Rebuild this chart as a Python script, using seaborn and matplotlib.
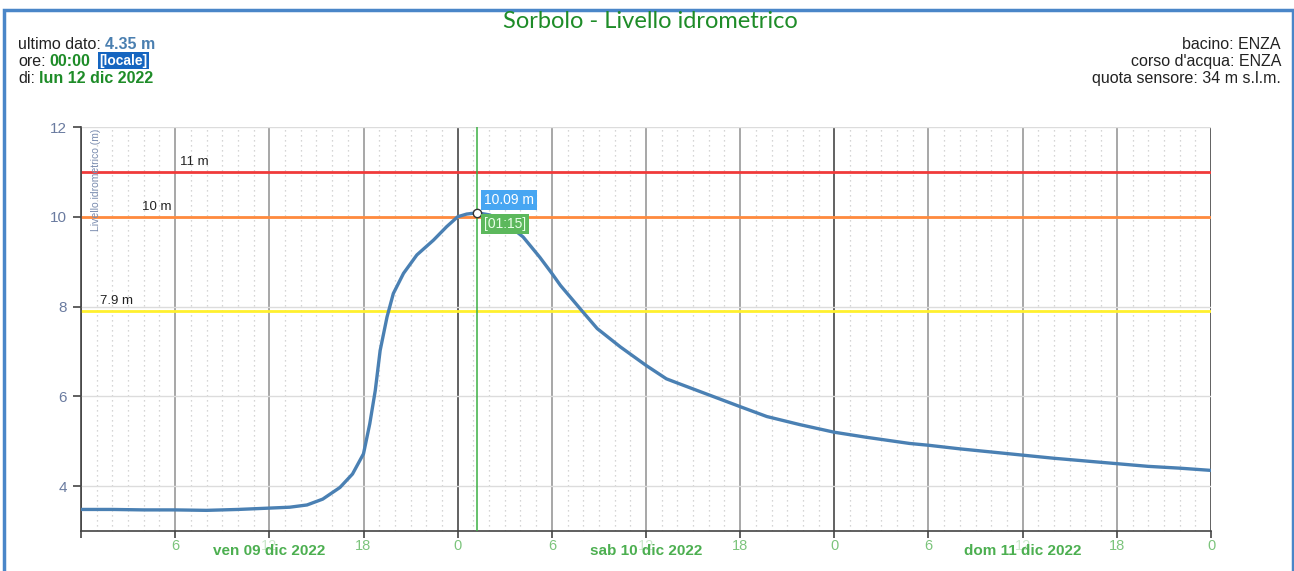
import numpy as np
import pandas as pd
import seaborn as sns
import matplotlib.pyplot as plt
from matplotlib.patches import Rectangle

# hours since ven 09 dic 2022 00:00 and water level (m)
hours = [0, 2, 4, 6, 8, 10, 12, 13.3, 14.4, 15.4, 16.5, 17.3, 18.0, 18.4,
         18.75, 19.06, 19.5, 19.9, 20.55, 21.4, 22.46, 23.3, 24.0, 24.57,
         25.25, 26.05, 27.1, 28.17, 29.23, 30.0, 30.55, 31.93, 32.89, 34.37,
         36, 37.3, 38.2, 40.1, 42, 43.7, 45.8, 48, 50, 52.8, 54, 56, 58, 60,
         62, 64, 66, 68, 70, 72]
levels = [3.48, 3.48, 3.47, 3.47, 3.46, 3.48, 3.51, 3.53, 3.58, 3.71, 3.97,
          4.27, 4.72, 5.39, 6.13, 7.02, 7.77, 8.29, 8.74, 9.15, 9.48, 9.78,
          10.0, 10.06, 10.09, 10.04, 9.85, 9.55, 9.1, 8.74, 8.47, 7.9, 7.51,
          7.1, 6.69, 6.39, 6.27, 6.02, 5.77, 5.55, 5.37, 5.2, 5.09, 4.95, 4.91,
          4.83, 4.76, 4.69, 4.62, 4.56, 4.5, 4.44, 4.4, 4.35]

thresholds = [11, 10, 7.9]
threshold_labels = ['11 m', '10 m', '7.9 m']
threshold_colors = ['#f03a3a', '#ff8a3d', '#fff02e']

days = ['ven 09 dic 2022', 'sab 10 dic 2022', 'dom 11 dic 2022']
hour_ticks = list(range(0, 73, 6))
hour_labels = ['', '6', '12', '18', '0', '6', '12', '18', '0', '6', '12', '18', '0']

df = pd.DataFrame({'ore': hours, 'livello': levels})

sns.set_theme(style='white')
plt.rcParams['font.family'] = ['Liberation Sans', 'DejaVu Sans']

W, H = 1294, 571
fig = plt.figure(figsize=(W / 100, H / 100), dpi=100)
ax = fig.add_axes([81 / W, 1 - 531 / H, 1130 / W, 404 / H])

# grid
ax.set_xlim(0, 72)
ax.set_ylim(3, 12)
for h in range(0, 73):
    if h % 6:
        ax.axvline(h, color='#c8c8c8', lw=0.9, ls=(0, (1, 3)), zorder=1)
for h in hour_ticks:
    col = '#555555' if h % 24 == 0 else '#a0a0a0'
    ax.axvline(h, color=col, lw=1.3, zorder=1)
for v in [4, 6, 8, 10, 12]:
    ax.axhline(v, color='#dcdcdc', lw=1, zorder=1)

# thresholds
label_x = [6.3, 3.9, 1.2]
for v, lab, c, lx in zip(thresholds, threshold_labels, threshold_colors, label_x):
    ax.axhline(v, color=c, lw=2, zorder=2)
    ax.text(lx, v + 0.08, lab, fontsize=9.5, color='#222222', va='bottom', ha='left', zorder=3)

# series
sns.lineplot(data=df, x='ore', y='livello', ax=ax, color='#4a80b3', lw=2.4, zorder=4)

# cursor at maximum
i_max = int(np.argmax(levels))
peak_h, peak_v = hours[i_max], levels[i_max]
ax.axvline(peak_h, color='#3cb043', lw=1.1, zorder=3)
ax.plot([peak_h], [peak_v], marker='o', ms=6, mfc='white', mec='#333333', mew=1, zorder=5)
hh = int(peak_h % 24)
mm = int(round((peak_h % 1) * 60))
ax.annotate(f'{peak_v:.2f} m', xy=(peak_h, peak_v), xytext=(5, 4), textcoords='offset points',
            fontsize=10, color='white', va='bottom', ha='left', zorder=6,
            bbox=dict(boxstyle='square,pad=0.2', fc='#47a6f2', ec='none'))
ax.annotate(f'[{hh:02d}:{mm:02d}]', xy=(peak_h, peak_v), xytext=(5, -3), textcoords='offset points',
            fontsize=10, color='#e8ffe8', va='top', ha='left', zorder=6,
            bbox=dict(boxstyle='square,pad=0.2', fc='#5cb85c', ec='none'))

# axes styling
ax.set_xlabel('')
ax.set_ylabel('')
ax.set_xticks(hour_ticks)
ax.set_xticklabels(hour_labels)
ax.set_yticks([4, 6, 8, 10, 12])
ax.tick_params(axis='x', colors='#444444', labelcolor='#7cc47c', labelsize=10.5, length=5, width=1.2,
               direction='out', bottom=True, pad=1)
ax.tick_params(axis='y', colors='#444444', labelcolor='#6a7ba0', labelsize=11, length=6, width=1.2,
               direction='out', left=True, pad=4)
for lab in ax.get_xticklabels():
    if lab.get_text() == '12':
        lab.set_alpha(0.4)
for s in ['top', 'right']:
    ax.spines[s].set_visible(False)
for s in ['left', 'bottom']:
    ax.spines[s].set_color('#444444')
    ax.spines[s].set_linewidth(1.2)

for i, d in enumerate(days):
    ax.text(12 + 24 * i, -0.033, d, transform=ax.get_xaxis_transform(), ha='center', va='top',
            fontsize=11, fontweight='bold', color='#4caf50', zorder=7)

ax.text(0.013, 0.995, 'Livello idrometrico (m)', transform=ax.transAxes, rotation=90,
        ha='center', va='top', fontsize=7.5, color='#7b8db0')

# header
fig.text(650 / W, 1 - 22 / H, 'Sorbolo - Livello idrometrico', ha='center', va='center',
         fontsize=17, color='#1e8c28', family=['Lato', 'DejaVu Sans'])

def header_line(y, label, value, vcolor, extra=None):
    t = fig.text(18 / W, 1 - y / H, label, ha='left', va='baseline', fontsize=11.5, color='#222222')
    v = plt.annotate(value, xy=(1, 0), xycoords=t, xytext=(3, 0), textcoords='offset points',
                     ha='left', va='bottom', fontsize=11.5, fontweight='bold', color=vcolor)
    if extra:
        plt.annotate(extra, xy=(1, 0), xycoords=v, xytext=(6, 1), textcoords='offset points',
                     ha='left', va='bottom', fontsize=10, fontweight='bold', color='white',
                     bbox=dict(boxstyle='square,pad=0.1', fc='#1565c0', ec='none'))

header_line(49, 'ultimo dato:', '4.35 m', '#4a7fb0')
header_line(66, 'ore:', '00:00', '#1e8c28', extra='[locale]')
header_line(83, 'di:', 'lun 12 dic 2022', '#1e8c28')

for y, txt in zip([49, 66, 83], ['bacino: ENZA', "corso d'acqua: ENZA", 'quota sensore: 34 m s.l.m.']):
    fig.text(1281 / W, 1 - y / H, txt, ha='right', va='baseline', fontsize=11.5, color='#222222')

fig.add_artist(Rectangle((4 / W, -0.1), 1289 / W, 1.1 - 10 / H, transform=fig.transFigure,
                         fill=False, ec='#4a86c8', lw=2.5))

fig.savefig('out.png', dpi=100)
